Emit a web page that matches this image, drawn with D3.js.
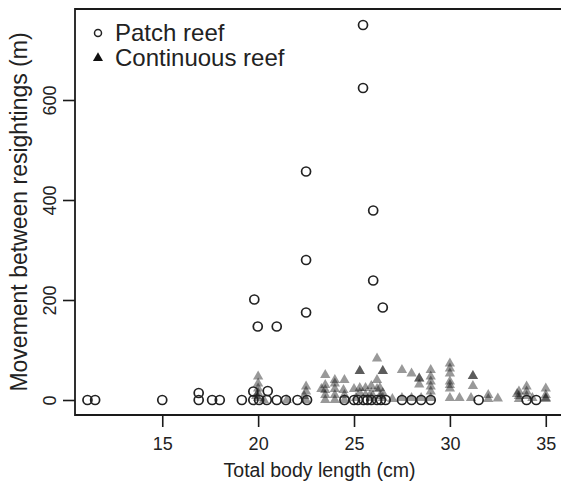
<!DOCTYPE html>
<html>
<head>
<meta charset="utf-8">
<script src="https://cdn.jsdelivr.net/npm/d3@7"></script>
<style>
  html, body { margin: 0; padding: 0; background: #fff; }
  svg { display: block; font-family: "Liberation Sans", Arial, Helvetica, sans-serif; }
</style>
</head>
<body>
<svg id="chart" width="561" height="489"></svg>
<script>
// ---- Data ----
const patchX = [11.1, 11.5, 15.0, 16.9, 16.9, 17.6, 18.0, 19.15, 19.75, 19.75, 20.05, 20.45, 20.5, 20.97, 21.45, 22.05, 22.55,
  24.5, 25.0, 25.2, 25.5, 25.7, 25.9, 26.2, 26.4, 26.65,
  27.5, 28.0, 28.5, 29.0, 31.5, 34.0, 34.5,
  19.8, 19.98, 20.97, 22.5, 22.5, 22.5, 25.47, 25.47, 26.0, 26.0, 26.5];
const patchY = [0, 0, 0, 0, 14, 0, 0, 0, 0, 17, 0, 0, 18, 0, 0, 0, 0,
  0, 0, 0, 0, 0, 0, 0, 0, 0,
  0, 0, 0, 0, 0, 0, 0,
  201, 147, 147, 457, 280, 175, 750, 624, 379, 239, 185];

const contX = [20.0, 20.0, 20.0, 20.0, 20.0, 20.3, 19.9,
  21.5,
  22.5, 22.5, 22.4, 22.5,
  23.5, 23.5, 23.5, 23.5, 23.5, 23.3,
  24.0, 24.0, 24.0, 24.0, 24.0,
  24.5, 24.45, 24.5, 24.5,
  25.3, 25.3, 25.3, 25.3, 25.1, 25.0,
  25.6, 25.6,
  25.9, 25.9, 25.9,
  26.2, 26.2, 26.2,
  26.35, 26.35,
  26.5, 26.5, 26.5, 26.5,
  27.0,
  27.5, 27.5,
  28.0, 28.0,
  28.4, 28.4, 28.4, 28.5,
  29.0, 29.0, 29.0, 29.0, 29.0, 29.0,
  30.0, 30.0, 30.0, 30.0, 30.0, 30.0, 30.0,
  30.5,
  31.2, 31.2, 31.2, 31.1,
  32.0, 32.0,
  32.5,
  33.6, 33.6, 33.6, 33.5,
  34.0, 34.0, 34.0,
  34.3,
  35.0, 35.0, 35.0, 35.0];
const contY = [47, 33, 23, 14, 4, 0, 8,
  0,
  27, 17, 8, 0,
  50, 30, 20, 10, 0, 22,
  40, 33, 22, 10, 0,
  40, 20, 10, 0,
  58, 58, 24, 14, 4, 22,
  24, 10,
  28, 14, 4,
  83, 40, 22,
  24, 8,
  58, 58, 14, 4,
  2,
  60, 4,
  53, 4,
  43, 43, 31, 4,
  60, 47, 37, 27, 17, 4,
  73, 63, 53, 37, 23, 4, 30,
  4,
  48, 48, 28, 4,
  10, 2,
  3,
  17, 8, 2, 12,
  27, 17, 8,
  4,
  23, 10, 4, 2];

const xTicks = [15, 20, 25, 30, 35];
const yTicks = [0, 200, 400, 600];
const seriesNames = ["Patch reef", "Continuous reef"];
const xTitle = "Total body length (cm)";
const yTitle = "Movement between resightings (m)";

// ---- Layout ----
const svg = d3.select("#chart");
const L = 75, R = 564, T = 9, B = 415;
const x = d3.scaleLinear().domain([10.45, 35.95]).range([L, R]);
const y = d3.scaleLinear().domain([-30, 782]).range([B, T]);
const ink = "#1a1a1a";

// triangles (semi-transparent)
const tri = d3.symbol().type(d3.symbolTriangle).size(46);
svg.append("g").selectAll("path")
  .data(contX.map((v, i) => [v, contY[i]]))
  .join("path")
  .attr("d", tri)
  .attr("transform", d => `translate(${x(d[0])},${y(d[1])})`)
  .attr("fill", "#000")
  .attr("fill-opacity", 0.4);

// circles (open)
svg.append("g").selectAll("circle")
  .data(patchX.map((v, i) => [v, patchY[i]]))
  .join("circle")
  .attr("cx", d => x(d[0]))
  .attr("cy", d => y(d[1]))
  .attr("r", 4.5)
  .attr("fill", "none")
  .attr("stroke", "#222")
  .attr("stroke-width", 1.7);

// frame
svg.append("path")
  .attr("d", `M${R},${T}H${L}V${B}H${R}V${T}`)
  .attr("fill", "none").attr("stroke", ink).attr("stroke-width", 1.8);

// x axis
const xAxis = d3.axisBottom(x).tickValues(xTicks).tickSize(12).tickPadding(10).tickFormat(d3.format("d"));
const gx = svg.append("g").attr("transform", `translate(0,${B})`).call(xAxis);
gx.select(".domain").remove();
gx.selectAll("line").attr("stroke", ink).attr("stroke-width", 1.6);
gx.selectAll("text").attr("fill", "#222").attr("font-size", 18).attr("font-family", "Liberation Sans, Arial, sans-serif");

// y axis
const yAxis = d3.axisLeft(y).tickValues(yTicks).tickSize(12).tickFormat(d3.format("d"));
const gy = svg.append("g").attr("transform", `translate(${L},0)`).call(yAxis);
gy.select(".domain").remove();
gy.selectAll("line").attr("stroke", ink).attr("stroke-width", 1.6);
gy.selectAll("text")
  .attr("fill", "#222").attr("font-size", 18).attr("font-family", "Liberation Sans, Arial, sans-serif")
  .attr("x", null).attr("dy", null)
  .attr("text-anchor", "middle")
  .attr("transform", "translate(-19,0) rotate(-90)");

// axis titles
svg.append("text")
  .attr("x", (L + R) / 2).attr("y", 477)
  .attr("text-anchor", "middle").attr("font-size", 19.5).attr("fill", "#222")
  .text(xTitle);
svg.append("text")
  .attr("transform", `translate(27,${(T + B) / 2}) rotate(-90)`)
  .attr("text-anchor", "middle").attr("font-size", 23).attr("fill", "#222")
  .text(yTitle);

// legend
const lg = svg.append("g");
lg.append("circle").attr("cx", 98).attr("cy", 33).attr("r", 3.5)
  .attr("fill", "none").attr("stroke", "#222").attr("stroke-width", 1.5);
lg.append("path").attr("d", d3.symbol().type(d3.symbolTriangle).size(44)())
  .attr("transform", "translate(98,58)").attr("fill", "#111");
lg.selectAll("text.leg").data(seriesNames).join("text")
  .attr("class", "leg")
  .attr("x", 115).attr("y", (d, i) => 41 + i * 25)
  .attr("font-size", 24).attr("fill", "#222")
  .text(d => d);
</script>
</body>
</html>
